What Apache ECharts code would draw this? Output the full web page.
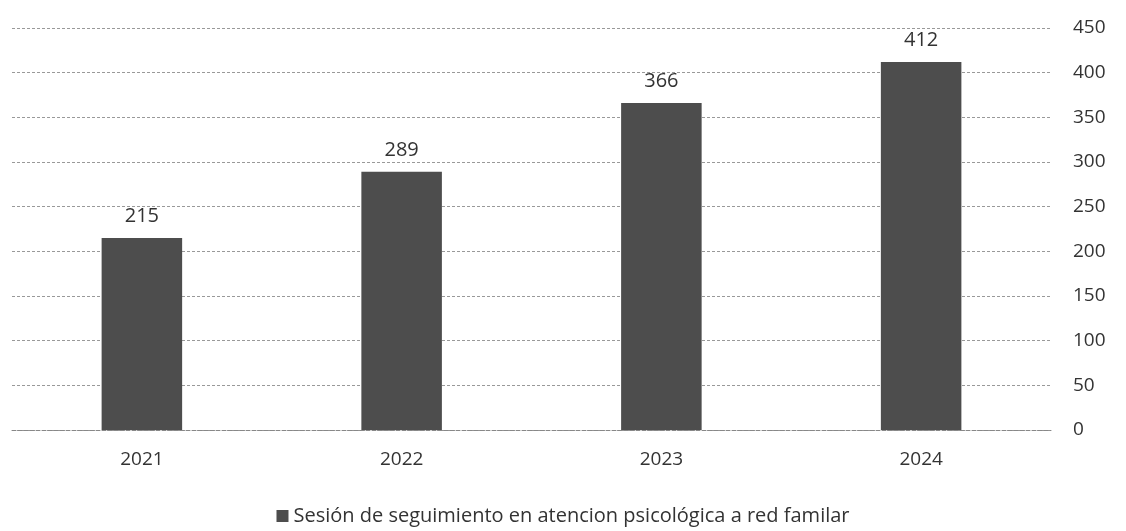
<!DOCTYPE html>
<html>
<head>
<meta charset="utf-8">
<script src="https://cdn.jsdelivr.net/npm/echarts@6/dist/echarts.min.js"></script>
<style>
  html, body { margin: 0; padding: 0; background: #fff; }
  #chart { width: 1126px; height: 531px; }
</style>
</head>
<body>
<div id="chart"></div>
<script>
const years = ['2021', '2022', '2023', '2024'];
const sesiones = [215, 289, 366, 412];
const yTicks = [0, 450, 50];  // min, max, interval

const chart = echarts.init(document.getElementById('chart'));
const font = '"Open Sans", Lato, sans-serif';

chart.setOption({
  animation: false,
  textStyle: { fontFamily: font },
  grid: { left: 12, right: 75, top: 28, bottom: 101 },
  legend: {
    bottom: 0,
    left: 'center',
    icon: 'rect',
    itemWidth: 12,
    itemHeight: 12,
    itemGap: 6,
    textStyle: { fontSize: 20, color: '#333', fontFamily: font }
  },
  xAxis: {
    type: 'category',
    data: years,
    axisTick: { show: false },
    axisLine: { lineStyle: { color: '#888', type: 'dashed' } },
    axisLabel: { fontSize: 19, color: '#333', margin: 20 }
  },
  yAxis: {
    type: 'value',
    position: 'right',
    min: yTicks[0],
    max: yTicks[1],
    interval: yTicks[2],
    axisLine: { show: false },
    axisTick: { show: false },
    axisLabel: { fontSize: 19, color: '#333', margin: 22 },
    splitLine: { lineStyle: { color: '#999', type: [3, 2], width: 1 } }
  },
  series: [{
    name: 'Sesión de seguimiento en atencion psicológica a red familar',
    type: 'bar',
    data: sesiones,
    barWidth: '31%',
    itemStyle: { color: '#4d4d4d' },
    label: {
      show: true,
      position: 'top',
      distance: 12,
      fontSize: 20,
      color: '#333'
    }
  }]
});
</script>
</body>
</html>
